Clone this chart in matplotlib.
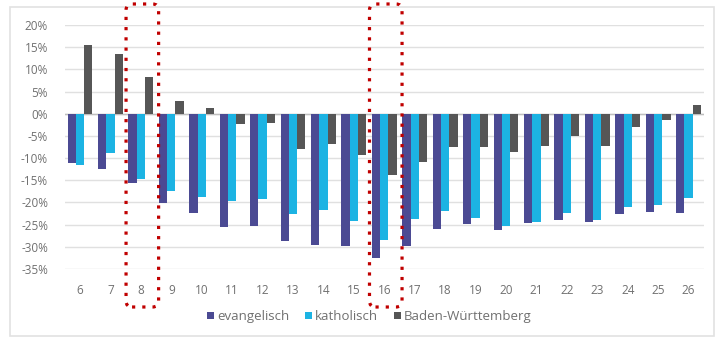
import matplotlib.pyplot as plt
import numpy as np
from matplotlib.patches import FancyBboxPatch, Rectangle
from matplotlib.transforms import IdentityTransform
from matplotlib.ticker import FuncFormatter

plt.rcParams['font.family'] = ['Open Sans', 'DejaVu Sans']

# Klassenstufen / Jahrgänge
klassen = [6, 7, 8, 9, 10, 11, 12, 13, 14, 15, 16, 17, 18, 19, 20, 21, 22, 23, 24, 25, 26]

# Veränderung in Prozent
evangelisch = [-11.1, -12.4, -15.5, -20.1, -22.3, -25.5, -25.3, -28.7, -29.6, -29.8, -32.5,
               -29.8, -25.9, -24.8, -26.1, -24.6, -24.0, -24.5, -22.7, -22.1, -22.3]
katholisch = [-11.5, -8.9, -14.6, -17.5, -18.7, -19.7, -19.3, -22.7, -21.7, -24.1, -28.4,
              -23.8, -22.0, -23.4, -25.2, -24.3, -22.3, -24.0, -21.1, -20.6, -19.0]
baden_wuerttemberg = [15.4, 13.4, 8.3, 2.8, 1.2, -2.4, -2.1, -7.9, -6.9, -9.3, -13.8,
                      -10.8, -7.6, -7.4, -8.7, -7.3, -5.0, -7.2, -2.9, -1.4, 2.0]

markiert = [8, 16]

c_ev = '#4b4a93'
c_kath = '#1cb3e3'
c_bw = '#565656'
c_text = '#707070'

fig = plt.figure(figsize=(7.16, 3.38), dpi=100)
ax = fig.add_axes([0.0905, 0.204, 0.8925, 0.722])

x = np.arange(len(klassen))
w = 0.272
ax.bar(x - w, evangelisch, width=w, color=c_ev, label='evangelisch', zorder=3)
ax.bar(x, katholisch, width=w, color=c_kath, label='katholisch', zorder=3)
ax.bar(x + w, baden_wuerttemberg, width=w, color=c_bw, label='Baden-Württemberg', zorder=3)

ax.set_xlim(-0.5, len(klassen) - 0.5)
ax.set_ylim(-35, 20)
ax.set_yticks(np.arange(-35, 21, 5))
ax.yaxis.set_major_formatter(FuncFormatter(lambda v, p: f'{v:.0f}%'))
ax.set_xticks(x)
ax.set_xticklabels(klassen)
ax.tick_params(axis='both', length=0, labelsize=8.5, colors=c_text)
ax.tick_params(axis='x', pad=11)
ax.tick_params(axis='y', pad=12)
ax.grid(axis='y', color='#e0e0e0', linewidth=1, zorder=0)
ax.axhline(0, color='#bfbfbf', linewidth=1, zorder=2)
for s in ax.spines.values():
    s.set_visible(False)

ax.legend(loc='center', bbox_to_anchor=(0.516, 0.063), bbox_transform=fig.transFigure,
          ncol=3, frameon=False, fontsize=9.5, labelcolor=c_text,
          handlelength=0.5, handleheight=0.5, handletextpad=0.25, columnspacing=1.2)

# Rahmen um die Grafik
fig.patches.append(Rectangle((10 / 716, 0.006), 704 / 716, 0.973, transform=fig.transFigure,
                             fill=False, edgecolor='#e2e2e2', linewidth=1.2))

# gepunktete Markierung einzelner Jahrgänge
fig.canvas.draw()
H = fig.bbox.height
for k in markiert:
    i = klassen.index(k)
    x0 = ax.transData.transform((i - 0.52, 0))[0] + 1
    x1 = ax.transData.transform((i + 0.55, 0))[0] + 1
    y_top = H - 4
    y_bot = H - 307
    box = FancyBboxPatch((x0, y_bot), x1 - x0, y_top - y_bot,
                         boxstyle='round,pad=0,rounding_size=6',
                         transform=IdentityTransform(), fill=False,
                         edgecolor='#c00000', linewidth=2.3,
                         linestyle=(0, (1, 2.2)), capstyle='butt', zorder=10)
    fig.patches.append(box)

fig.savefig('out.png', dpi=100)
